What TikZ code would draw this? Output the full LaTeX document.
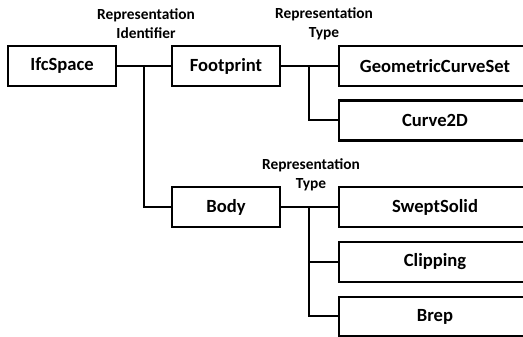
\documentclass[tikz,border=0pt]{standalone}
\usepackage{fontspec}
\setmainfont{Carlito}
\begin{document}
\begin{tikzpicture}[x=1pt,y=1pt,
  box/.style={draw,line width=2.2pt,minimum height=40pt,inner sep=0pt,font=\bfseries\fontsize{18.6}{20}\selectfont},
  lbox/.style={box,minimum width=108pt},
  rbox/.style={box,minimum width=192pt},
  lbl/.style={align=center,inner sep=0pt,font=\bfseries\fontsize{15.4}{18.5}\selectfont},
  conn/.style={line width=2pt}]
\useasboundingbox (0,0) rectangle (523,337);
\clip (0,0) rectangle (523,337);
\node[lbox] (ifc) at (62,271) {IfcSpace};
\node[lbox] (foot) at (226,271) {Footprint};
\node[lbox] (body) at (226,130) {Body};
\node[rbox] (gcs) at (435,271) {GeometricCurveSet};
\node[rbox] (c2d) at (435,216.5) {Curve2D};
\node[rbox] (swept) at (435,130) {SweptSolid};
\node[rbox] (clip) at (435,75) {Clipping};
\node[rbox,minimum height=39pt] (brep) at (435,20.5) {Brep};
\node[lbl] (l1) at (146,313.5) {Representation\\Identifier};
\node[lbl] (l2) at (324,313) {Representation\\Type};
\node[lbl] (l3) at (311,162) {Representation\\Type};
\coordinate (j1) at (143.5,271);
\coordinate (j2) at (308.5,271);
\coordinate (j3) at (308.5,130);
\draw[conn] (ifc.east) -- (foot.west);
\draw[conn] (j1) |- (body.west);
\draw[conn] (foot.east) -- (gcs.west);
\draw[conn] (j2) |- (c2d.west);
\draw[conn] (body.east) -- (swept.west);
\draw[conn] (j3) |- (clip.west);
\draw[conn] (j3) |- (brep.west);
\end{tikzpicture}
\end{document}
